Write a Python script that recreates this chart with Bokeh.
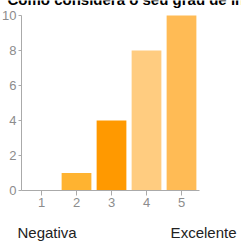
from bokeh.plotting import figure
from bokeh.models import ColumnDataSource, Label, Range1d, FixedTicker
from bokeh.embed import file_html
from bokeh.resources import INLINE

# Data
categories = [1, 2, 3, 4, 5]
counts = [0, 1, 4, 8, 10]
bar_colors = ["#FFD699", "#FFB330", "#FF9900", "#FFCC80", "#FFBB55"]
title_text = "Como considera o seu grau de in"
low_label = "Negativa"
high_label = "Excelente"
y_ticks = [0, 2, 4, 6, 8, 10]

# layout: the frame covers the whole canvas; axes drawn at fixed locations
X0, X1 = -0.4, 6.714          # canvas x extent in data units (35 px / unit)
Y0, Y1 = -3.0857, 10.857      # canvas y extent in data units (17.5 px / unit)
AX_LEFT, AX_RIGHT = 0.4286, 5.514

source = ColumnDataSource(dict(x=categories, top=counts, color=bar_colors))

p = figure(width=249, height=244, output_backend="svg", toolbar_location=None,
           x_range=Range1d(X0, X1), y_range=Range1d(Y0, Y1),
           min_border=0, min_border_left=0, min_border_right=0,
           min_border_top=0, min_border_bottom=0)
p.styles = {"margin-left": "-8px", "margin-bottom": "-8px"}
p.outline_line_color = None
p.background_fill_color = "white"
p.border_fill_color = "white"
p.xgrid.grid_line_color = None
p.ygrid.grid_line_color = None

p.vbar(x="x", top="top", width=0.85, bottom=0, color="color", line_color=None, source=source)

for ax in (p.xaxis, p.yaxis):
    ax.axis_line_color = "#aaaaaa"
    ax.major_tick_line_color = "#aaaaaa"
    ax.minor_tick_line_color = None
    ax.major_tick_in = 0
    ax.major_label_text_color = "#8c8c8c"
    ax.major_label_text_font = "Liberation Sans"
    ax.major_label_text_font_size = "13px"

p.xaxis.ticker = FixedTicker(ticks=categories)
p.xaxis.fixed_location = 0
p.xaxis.bounds = (AX_LEFT, AX_RIGHT)
p.xaxis.major_tick_out = 5
p.xaxis.major_label_standoff = 3
p.yaxis.ticker = FixedTicker(ticks=y_ticks)
p.yaxis.fixed_location = AX_LEFT
p.yaxis.bounds = (0, 10)
p.yaxis.major_tick_out = 3
p.yaxis.major_label_standoff = 2

p.add_layout(Label(x=AX_LEFT, y=10, x_offset=-14, y_offset=16, text=title_text,
                   text_font="Liberation Sans", text_font_style="bold",
                   text_font_size="15px", text_color="#000000",
                   text_baseline="alphabetic", text_align="left"))
p.add_layout(Label(x=AX_LEFT, y=0, x_offset=-4, y_offset=-42, text=low_label,
                   text_font="Liberation Sans", text_font_size="15px", text_color="#222222",
                   text_baseline="alphabetic", text_align="left"))
p.add_layout(Label(x=AX_RIGHT, y=0, x_offset=37, y_offset=-42, text=high_label,
                   text_font="Liberation Sans", text_font_size="15px", text_color="#222222",
                   text_baseline="alphabetic", text_align="right"))

open("out.html", "w").write(file_html(p, INLINE))
